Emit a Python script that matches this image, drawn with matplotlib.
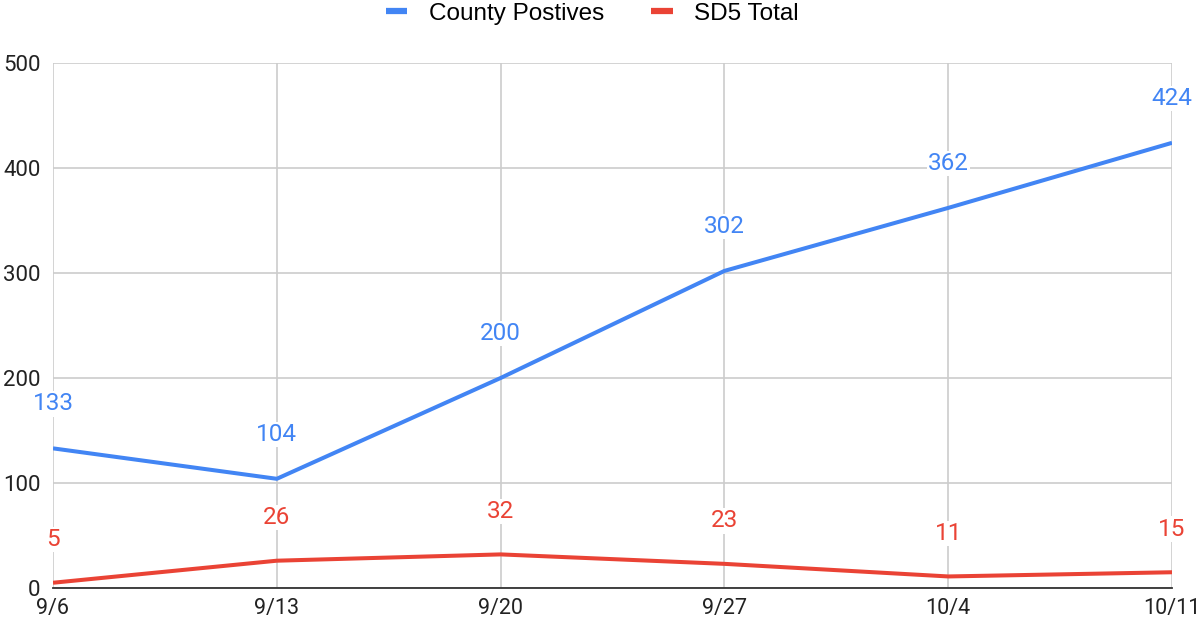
import matplotlib
matplotlib.use("Agg")
import matplotlib.pyplot as plt
from matplotlib.lines import Line2D

dates = ["9/6", "9/13", "9/20", "9/27", "10/4", "10/11"]
county = [133, 104, 200, 302, 362, 424]
sd5 = [5, 26, 32, 23, 11, 15]
yticks = [0, 100, 200, 300, 400, 500]

BLUE = "#4285F4"
RED = "#EA4335"

fig = plt.figure(figsize=(11.99, 6.27), dpi=100)
ax = fig.add_axes([0.0442, 0.0622, 0.9333, 0.8373])

x = list(range(len(dates)))
ax.plot(x, county, color=BLUE, lw=2.9, solid_capstyle="butt", zorder=3)
ax.plot(x, sd5, color=RED, lw=2.9, solid_capstyle="butt", zorder=3)

for xi, v in zip(x, county):
    ax.annotate(str(v), (xi, v), xytext=(0, 32), textcoords="offset points",
                ha="center", va="center", color=BLUE, fontsize=17.5, family="Roboto",
                bbox=dict(boxstyle="square,pad=0.05", fc="white", ec="none"), zorder=4)
for xi, v in zip(x, sd5):
    ax.annotate(str(v), (xi, v), xytext=(0, 31), textcoords="offset points",
                ha="center", va="center", color=RED, fontsize=17.5, family="Roboto",
                bbox=dict(boxstyle="square,pad=0.05", fc="white", ec="none"), zorder=4)

ax.set_xlim(0, len(dates) - 1)
ax.set_ylim(0, 500)
ax.set_xticks(x)
ax.set_xticklabels(dates, fontsize=15.5, family="Roboto", color="#222222")
ax.set_yticks(yticks)
ax.set_yticklabels([str(t) for t in yticks], fontsize=16, family="Roboto", color="#222222")
ax.tick_params(length=0)
ax.tick_params(axis="y", pad=9)
ax.tick_params(axis="x", pad=7)
ax.grid(True, color="#cccccc", lw=1.2)
ax.set_axisbelow(True)
for s in ["top", "right", "left"]:
    ax.spines[s].set_visible(False)
ax.spines["bottom"].set_color("#333333")
ax.spines["bottom"].set_linewidth(1.3)

handles = [Line2D([], [], color=BLUE, lw=4.5, solid_capstyle="butt"),
           Line2D([], [], color=RED, lw=4.5, solid_capstyle="butt")]
fig.legend(handles, ["County Postives", "SD5 Total"], loc="center",
           bbox_to_anchor=(0.494, 0.978), ncol=2, frameon=False,
           prop={"family": "Liberation Sans", "size": 17.5},
           handlelength=0.9, handletextpad=0.9, columnspacing=1.9,
           borderaxespad=0, borderpad=0)

fig.savefig("out.png", dpi=100, facecolor="white")
